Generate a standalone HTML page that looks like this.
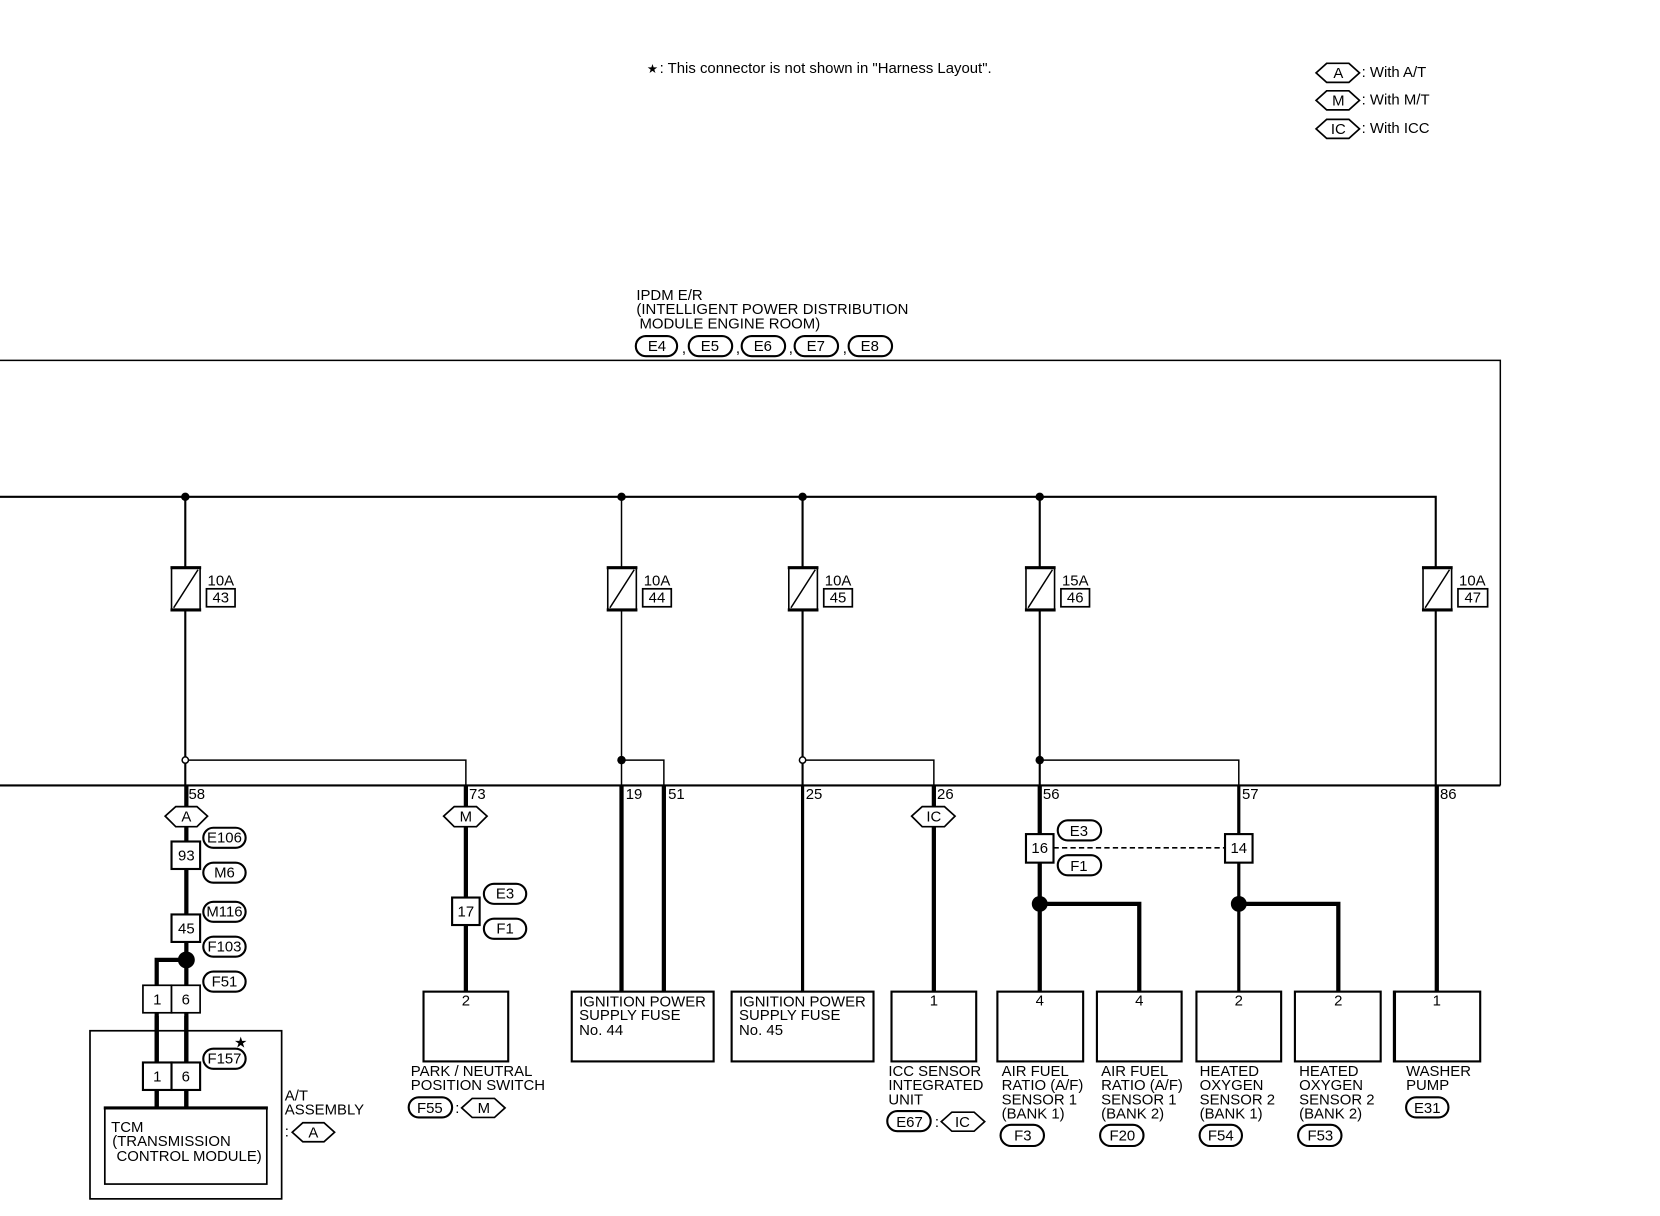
<!DOCTYPE html>
<html><head><meta charset="utf-8"><style>
html,body{margin:0;padding:0;background:#fff;width:1660px;height:1216px;overflow:hidden}
svg{display:block}
text{font-family:"Liberation Sans",sans-serif;font-size:14.1px;fill:#000}
.c{text-anchor:middle}
.l{fill:none;stroke:#000;stroke-width:1.4}
.w{fill:none;stroke:#000;stroke-width:4}
.n{fill:none;stroke:#000;stroke-width:3}
.m{fill:none;stroke:#000;stroke-width:2}
.b{fill:#fff;stroke:#000;stroke-width:1.6}
.t{fill:#fff;stroke:#000;stroke-width:2}
.s{fill:#fff;stroke:#000;stroke-width:1.5}
</style></head><body>
<svg width="1660" height="1216" viewBox="0 0 1660 1216">
<g transform="translate(0,2) scale(1.0588,1.0573)">
<!-- notes -->
<text x="611" y="67" style="font-size:12px">★</text>
<text x="623" y="67">: This connector is not shown in "Harness Layout".</text>
<polygon class="b" points="1243,67 1253,58 1274,58 1284,67 1274,76 1253,76"/><text class="c" x="1264" y="72">A</text><text x="1286" y="71">: With A/T</text>
<polygon class="b" points="1243,93 1253,84 1274,84 1284,93 1274,102 1253,102"/><text class="c" x="1264" y="98">M</text><text x="1286" y="97">: With M/T</text>
<polygon class="b" points="1243,120 1253,111 1274,111 1284,120 1274,129 1253,129"/><text class="c" x="1264" y="125">IC</text><text x="1286" y="124">: With ICC</text>
<!-- IPDM -->
<text x="601" y="282">IPDM E/R</text>
<text x="601" y="295" textLength="257">(INTELLIGENT POWER DISTRIBUTION</text>
<text x="604" y="309">MODULE ENGINE ROOM)</text>
<rect class="t" x="600.500" y="316" width="39" height="19" rx="9.5"/><text class="c" x="620.500" y="330">E4</text><text x="644" y="332">,</text>
<rect class="t" x="650.500" y="316" width="41" height="19" rx="9.5"/><text class="c" x="670.500" y="330">E5</text><text x="695" y="332">,</text>
<rect class="t" x="700.500" y="316" width="41" height="19" rx="9.5"/><text class="c" x="720.500" y="330">E6</text><text x="745" y="332">,</text>
<rect class="t" x="750.500" y="316" width="41" height="19" rx="9.5"/><text class="c" x="770.500" y="330">E7</text><text x="796" y="332">,</text>
<rect class="t" x="801.500" y="316" width="41" height="19" rx="9.500"/><text class="c" x="821.500" y="330">E8</text>
<!-- frame -->
<path class="l" d="M0 339H1417V741"/>
<path class="m" d="M0 741H1417"/>
<!-- bus -->
<path class="m" d="M0 468H1356V741M175 468V741M758 468V741M982 468V741"/>
<path class="l" d="M587 468V741"/>
<circle cx="175" cy="468" r="4"/><circle cx="587" cy="468" r="4"/><circle cx="758" cy="468" r="4"/><circle cx="982" cy="468" r="4"/>
<!-- branches above bottom bus -->
<path class="l" d="M175 717H440V741M587 717H627V741M758 717H882V741M982 717H1170V741"/>
<circle cx="175" cy="717" r="3" fill="#fff" stroke="#000" stroke-width="1.4"/>
<circle cx="758" cy="717" r="3" fill="#fff" stroke="#000" stroke-width="1.4"/>
<circle cx="587" cy="717" r="4"/><circle cx="982" cy="717" r="4"/>
<!-- fuses -->
<g><rect class="s" x="162" y="535" width="27" height="40"/><path class="l" d="M164 573L187 537"/><path d="M161 535h29M161 575h29" stroke="#000" stroke-width="3"/></g>
<g><rect class="s" x="574" y="535" width="27" height="40"/><path class="l" d="M576 573L599 537"/><path d="M573 535h29M573 575h29" stroke="#000" stroke-width="3"/></g>
<g><rect class="s" x="745" y="535" width="27" height="40"/><path class="l" d="M747 573L770 537"/><path d="M744 535h29M744 575h29" stroke="#000" stroke-width="3"/></g>
<g><rect class="s" x="969" y="535" width="27" height="40"/><path class="l" d="M971 573L994 537"/><path d="M968 535h29M968 575h29" stroke="#000" stroke-width="3"/></g>
<g><rect class="s" x="1344" y="535" width="27" height="40"/><path class="l" d="M1346 573L1369 537"/><path d="M1343 535h29M1343 575h29" stroke="#000" stroke-width="3"/></g>
<text x="196" y="552">10A</text><rect class="b" x="195" y="555" width="27" height="17"/><text class="c" x="208.500" y="568">43</text>
<text x="608" y="552">10A</text><rect class="b" x="607" y="555" width="27" height="17"/><text class="c" x="620.500" y="568">44</text>
<text x="779" y="552">10A</text><rect class="b" x="778" y="555" width="27" height="17"/><text class="c" x="791.500" y="568">45</text>
<text x="1003" y="552">15A</text><rect class="b" x="1002" y="555" width="27" height="17"/><text class="c" x="1015.500" y="568">46</text>
<text x="1378" y="552">10A</text><rect class="b" x="1377" y="555" width="28" height="17"/><text class="c" x="1391" y="568">47</text>
<!-- pin labels -->
<text x="178" y="754">58</text><text x="443" y="754">73</text><text x="591" y="754">19</text><text x="631" y="754">51</text><text x="761" y="754">25</text><text x="885" y="754">26</text><text x="985" y="754">56</text><text x="1173" y="754">57</text><text x="1360" y="754">86</text>
<!-- lower wires -->
<path class="w" d="M176 741V1045M148 1045V906H176M440 741V936M587 741V936M627 741V936M882 741V936M982 741V936M982 853H1076V936M1170 853H1264V936M1357 741V936"/>
<path class="n" d="M758 741V936M1170 741V936"/>
<circle cx="176" cy="906" r="8"/><circle cx="982" cy="853" r="7.500"/><circle cx="1170" cy="853" r="7.500"/>
<path d="M995 800H1157" stroke="#000" stroke-width="1.6" stroke-dasharray="5 3" fill="none"/>
<!-- hexes on wires -->
<polygon class="b" points="156,770 166,761 186,761 196,770 186,780 166,780"/><text class="c" x="176" y="775">A</text>
<polygon class="b" points="419,770 429,761 450,761 460,770 450,780 429,780"/><text class="c" x="440" y="775">M</text>
<polygon class="b" points="861,770 871,761 892,761 902,770 892,780 871,780"/><text class="c" x="882" y="775">IC</text>
<!-- junction boxes -->
<rect class="t" x="162" y="794" width="27" height="26"/><text class="c" x="176" y="812">93</text>
<rect class="t" x="162" y="863" width="27" height="26"/><text class="c" x="176" y="881">45</text>
<rect class="b" x="135" y="930" width="27" height="26"/><text class="c" x="148.500" y="948">1</text>
<rect class="b" x="162" y="930" width="27" height="26"/><text class="c" x="175.500" y="948">6</text>
<rect class="t" x="427" y="847" width="26" height="26"/><text class="c" x="440" y="865">17</text>
<rect class="t" x="969" y="787" width="26" height="27"/><text class="c" x="982" y="805">16</text>
<rect class="t" x="1157" y="787" width="26" height="27"/><text class="c" x="1170" y="805">14</text>
<!-- pills -->
<rect class="t" x="192" y="781" width="40" height="19" rx="9.500"/><text class="c" x="212" y="795">E106</text>
<rect class="t" x="192" y="814" width="40" height="19" rx="9.500"/><text class="c" x="212" y="828">M6</text>
<rect class="t" x="192" y="851" width="40" height="19" rx="9.500"/><text class="c" x="212" y="865">M116</text>
<rect class="t" x="192" y="884" width="40" height="19" rx="9.500"/><text class="c" x="212" y="898">F103</text>
<rect class="t" x="192" y="917" width="40" height="19" rx="9.500"/><text class="c" x="212" y="931">F51</text>
<rect class="t" x="457" y="834" width="40" height="19" rx="9.500"/><text class="c" x="477" y="848">E3</text>
<rect class="t" x="457" y="867" width="40" height="19" rx="9.500"/><text class="c" x="477" y="881">F1</text>
<rect class="t" x="999" y="774" width="41" height="19" rx="9.500"/><text class="c" x="1019" y="789">E3</text>
<rect class="t" x="999" y="807" width="41" height="19" rx="9.500"/><text class="c" x="1019" y="822">F1</text>
<!-- TCM -->
<rect x="85" y="973" width="181" height="159" fill="none" stroke="#000" stroke-width="1.6"/>
<path class="w" d="M148 959V1045M176 959V1045"/>
<rect class="t" x="135" y="1003" width="27" height="26"/><text class="c" x="148.500" y="1021">1</text>
<rect class="t" x="162" y="1003" width="27" height="26"/><text class="c" x="175.500" y="1021">6</text>
<rect class="b" x="99" y="1046" width="153" height="72"/><path d="M98 1046H253" stroke="#000" stroke-width="3"/>
<text x="105" y="1069">TCM</text><text x="106" y="1082">(TRANSMISSION</text><text x="110" y="1096">CONTROL MODULE)</text>
<rect class="t" x="192" y="990" width="40" height="19" rx="9.500"/><text class="c" x="212" y="1004">F157</text>
<text x="221" y="989" style="font-size:14px">★</text>
<text x="269" y="1039">A/T</text><text x="269" y="1052">ASSEMBLY</text><text x="269" y="1073">:</text>
<polygon class="b" points="276,1069 286,1060 306,1060 316,1069 306,1078 286,1078"/><text class="c" x="296" y="1074">A</text>
<!-- device boxes -->
<rect class="t" x="400" y="936" width="80" height="66"/><text class="c" x="440" y="949">2</text>
<rect class="t" x="540" y="936" width="134" height="66"/>
<text x="547" y="950">IGNITION POWER</text><text x="547" y="963">SUPPLY FUSE</text><text x="547" y="977">No. 44</text>
<rect class="t" x="691" y="936" width="134" height="66"/>
<text x="698" y="950">IGNITION POWER</text><text x="698" y="963">SUPPLY FUSE</text><text x="698" y="977">No. 45</text>
<rect class="t" x="842" y="936" width="80" height="66"/><text class="c" x="882" y="949">1</text>
<rect class="t" x="942" y="936" width="81" height="66"/><text class="c" x="982" y="949">4</text>
<rect class="t" x="1036" y="936" width="80" height="66"/><text class="c" x="1076" y="949">4</text>
<rect class="t" x="1130" y="936" width="80" height="66"/><text class="c" x="1170" y="949">2</text>
<rect class="t" x="1223" y="936" width="81" height="66"/><text class="c" x="1264" y="949">2</text>
<rect class="t" x="1317" y="936" width="81" height="66"/><text class="c" x="1357" y="949">1</text>
<path d="M1317 935V1003" stroke="#000" stroke-width="3"/>
<!-- device labels -->
<text x="388" y="1016">PARK / NEUTRAL</text><text x="388" y="1029">POSITION SWITCH</text>
<rect class="t" x="386" y="1036" width="41" height="19" rx="9.500"/><text class="c" x="406" y="1051">F55</text><text x="430" y="1051">:</text>
<polygon class="b" points="436,1046 446,1037 467,1037 477,1046 467,1055 446,1055"/><text class="c" x="457" y="1051">M</text>
<text x="839" y="1016">ICC SENSOR</text><text x="839" y="1029">INTEGRATED</text><text x="839" y="1043">UNIT</text>
<rect class="t" x="838" y="1049" width="41" height="19" rx="9.500"/><text class="c" x="859" y="1064">E67</text><text x="883" y="1064">:</text>
<polygon class="b" points="889,1059 899,1050 920,1050 930,1059 920,1068 899,1068"/><text class="c" x="909" y="1064">IC</text>
<text x="946" y="1016">AIR FUEL</text><text x="946" y="1029">RATIO (A/F)</text><text x="946" y="1043">SENSOR 1</text><text x="946" y="1056">(BANK 1)</text>
<rect class="t" x="945" y="1062" width="41" height="20" rx="10"/><text class="c" x="966" y="1077">F3</text>
<text x="1040" y="1016">AIR FUEL</text><text x="1040" y="1029">RATIO (A/F)</text><text x="1040" y="1043">SENSOR 1</text><text x="1040" y="1056">(BANK 2)</text>
<rect class="t" x="1039" y="1062" width="41" height="20" rx="10"/><text class="c" x="1060" y="1077">F20</text>
<text x="1133" y="1016">HEATED</text><text x="1133" y="1029">OXYGEN</text><text x="1133" y="1043">SENSOR 2</text><text x="1133" y="1056">(BANK 1)</text>
<rect class="t" x="1133" y="1062" width="40" height="20" rx="10"/><text class="c" x="1153" y="1077">F54</text>
<text x="1227" y="1016">HEATED</text><text x="1227" y="1029">OXYGEN</text><text x="1227" y="1043">SENSOR 2</text><text x="1227" y="1056">(BANK 2)</text>
<rect class="t" x="1226" y="1062" width="41" height="20" rx="10"/><text class="c" x="1247" y="1077">F53</text>
<text x="1328" y="1016">WASHER</text><text x="1328" y="1029">PUMP</text>
<rect class="t" x="1328" y="1036" width="40" height="19" rx="9.500"/><text class="c" x="1348" y="1051">E31</text>
</g>
</svg>
</body></html>
